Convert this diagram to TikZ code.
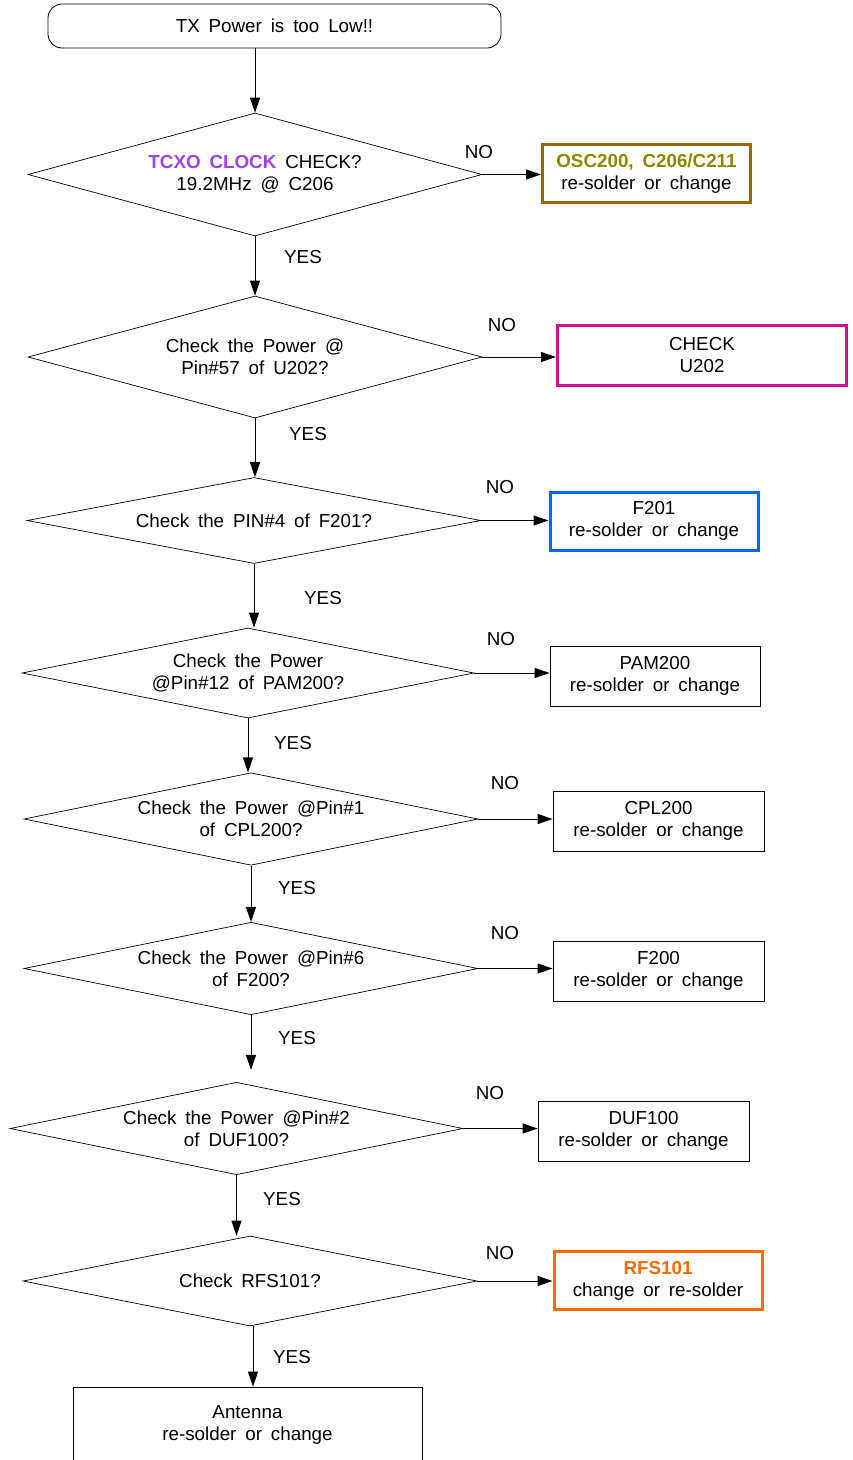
\documentclass[tikz,border=0pt]{standalone}
\usepackage{fontspec}
\setmainfont{Liberation Sans}[WordSpace=1.7]
\usepackage{xcolor}
\usetikzlibrary{shapes.geometric, arrows.meta, positioning}
\definecolor{clockpurple}{HTML}{A040F0}
\definecolor{oscolive}{HTML}{8A8A00}
\definecolor{oscbrown}{HTML}{9C6500}
\definecolor{chipmagenta}{HTML}{D0108C}
\definecolor{filterblue}{HTML}{0066FF}
\definecolor{switchorange}{HTML}{FF6A00}

\begin{document}
\begin{tikzpicture}[
        x=1pt, y=-1pt,
        every node/.style = {font=\fontsize{18.8}{22}\selectfont},
        startbox/.style = {draw, rectangle, rounded corners=14pt, minimum width=453pt, minimum height=44pt, line width=0.8pt},
        check/.style = {draw, diamond, aspect=4, inner sep=0pt, align=center, line width=0.7pt, minimum width=454pt},
        fixbox/.style = {draw, rectangle, align=center, minimum width=211pt, minimum height=60pt, line width=0.8pt},
        markbox/.style = {fixbox, line width=3pt, minimum width=208pt, minimum height=58pt},
        answer/.style = {inner sep=0pt},
        arrow/.style = {draw, -{Triangle[length=15pt, width=10pt]}, line width=1pt}
    ]
        \useasboundingbox (0,0) rectangle (852,1460);

        % Start
        \node (start) [startbox] at (274.5,26) {TX Power is too Low!!};

        % Checks
        \node (tcxo) [check, minimum height=123pt] at (255,174.5) {{\color{clockpurple}\textbf{TCXO CLOCK}} CHECK?\\19.2MHz @ C206};
        \node (u202) [check, minimum height=122pt] at (255,357) {Check the Power @\\Pin\#57 of U202?};
        \node (f201) [check, minimum height=86pt] at (254,520.5) {Check the PIN\#4 of F201?};
        \node (pam) [check, minimum height=90pt, minimum width=452pt] at (248,673) {Check the Power\\@Pin\#12 of PAM200?};
        \node (cpl) [check, minimum height=88pt] at (251,819) {Check the Power @Pin\#1\\of CPL200?};
        \node (f200) [check, minimum height=89pt] at (251,968.5) {Check the Power @Pin\#6\\of F200?};
        \node (duf) [check, minimum height=89pt, minimum width=453pt] at (236.5,1128.5) {Check the Power @Pin\#2\\of DUF100?};
        \node (rfs) [check, minimum height=90pt] at (250,1281) {Check RFS101?};

        % Fixes
        \node (oscfix) [markbox, draw=oscbrown] at (646.5,173.5) {{\color{oscolive}\textbf{OSC200, C206/C211}}\\re-solder or change};
        \node (u202fix) [markbox, draw=chipmagenta, minimum width=289pt, minimum height=60pt] at (702,355.5) {CHECK\\U202};
        \node (f201fix) [markbox, draw=filterblue] at (654,521) {F201\\re-solder or change};
        \node (pamfix) [fixbox, minimum width=210pt] at (655,676) {PAM200\\re-solder or change};
        \node (cplfix) [fixbox] at (658.5,821) {CPL200\\re-solder or change};
        \node (f200fix) [fixbox] at (658.5,971) {F200\\re-solder or change};
        \node (duffix) [fixbox] at (643.5,1131) {DUF100\\re-solder or change};
        \node (rfsfix) [markbox, draw=switchorange] at (658,1280.5) {{\color{switchorange}\textbf{RFS101}}\\change or re-solder};
        \node (antenna) [fixbox, minimum width=349pt, minimum height=75pt] at (247.5,1424.5) {Antenna\\re-solder or change};

        % YES path
        \draw [arrow] (start.south -| tcxo.north) -- (tcxo.north);
        \draw [arrow] (tcxo.south) -- (tcxo.south |- u202.north);
        \draw [arrow] (u202.south) -- (u202.south |- f201.north);
        \draw [arrow] (f201.south) -- (f201.south |- pam.north);
        \draw [arrow] (pam.south) -- (pam.south |- cpl.north);
        \draw [arrow] (cpl.south) -- (cpl.south |- f200.north);
        \draw [arrow] (f200.south) -- ([yshift=12pt]f200.south |- duf.north);
        \draw [arrow] (duf.south) -- (duf.south |- rfs.north);
        \draw [arrow] ([xshift=3pt]rfs.south) -- ([xshift=3pt]rfs.south |- antenna.north);

        % NO path
        \draw [arrow] (tcxo.east) -- (tcxo.east -| oscfix.west);
        \draw [arrow] (u202.east) -- (u202.east -| u202fix.west);
        \draw [arrow] (f201.east) -- (f201.east -| f201fix.west);
        \draw [arrow] (pam.east) -- (pam.east -| pamfix.west);
        \draw [arrow] (cpl.east) -- (cpl.east -| cplfix.west);
        \draw [arrow] (f200.east) -- (f200.east -| f200fix.west);
        \draw [arrow] (duf.east) -- (duf.east -| duffix.west);
        \draw [arrow] (rfs.east) -- (rfs.east -| rfsfix.west);

        % Labels
        \node (yes1) [answer] at (303,257) {YES};
        \node (yes2) [answer] at (308,434) {YES};
        \node (yes3) [answer] at (323,598) {YES};
        \node (yes4) [answer] at (293,743) {YES};
        \node (yes5) [answer] at (297,888) {YES};
        \node (yes6) [answer] at (297,1038) {YES};
        \node (yes7) [answer] at (282,1199) {YES};
        \node (yes8) [answer] at (292,1357) {YES};
        \node (no1) [answer] at (479,152) {NO};
        \node (no2) [answer] at (502,325) {NO};
        \node (no3) [answer] at (500,487) {NO};
        \node (no4) [answer] at (501,639) {NO};
        \node (no5) [answer] at (505,783) {NO};
        \node (no6) [answer] at (505,933) {NO};
        \node (no7) [answer] at (490,1093) {NO};
        \node (no8) [answer] at (500,1253) {NO};

    \end{tikzpicture}
\end{document}
